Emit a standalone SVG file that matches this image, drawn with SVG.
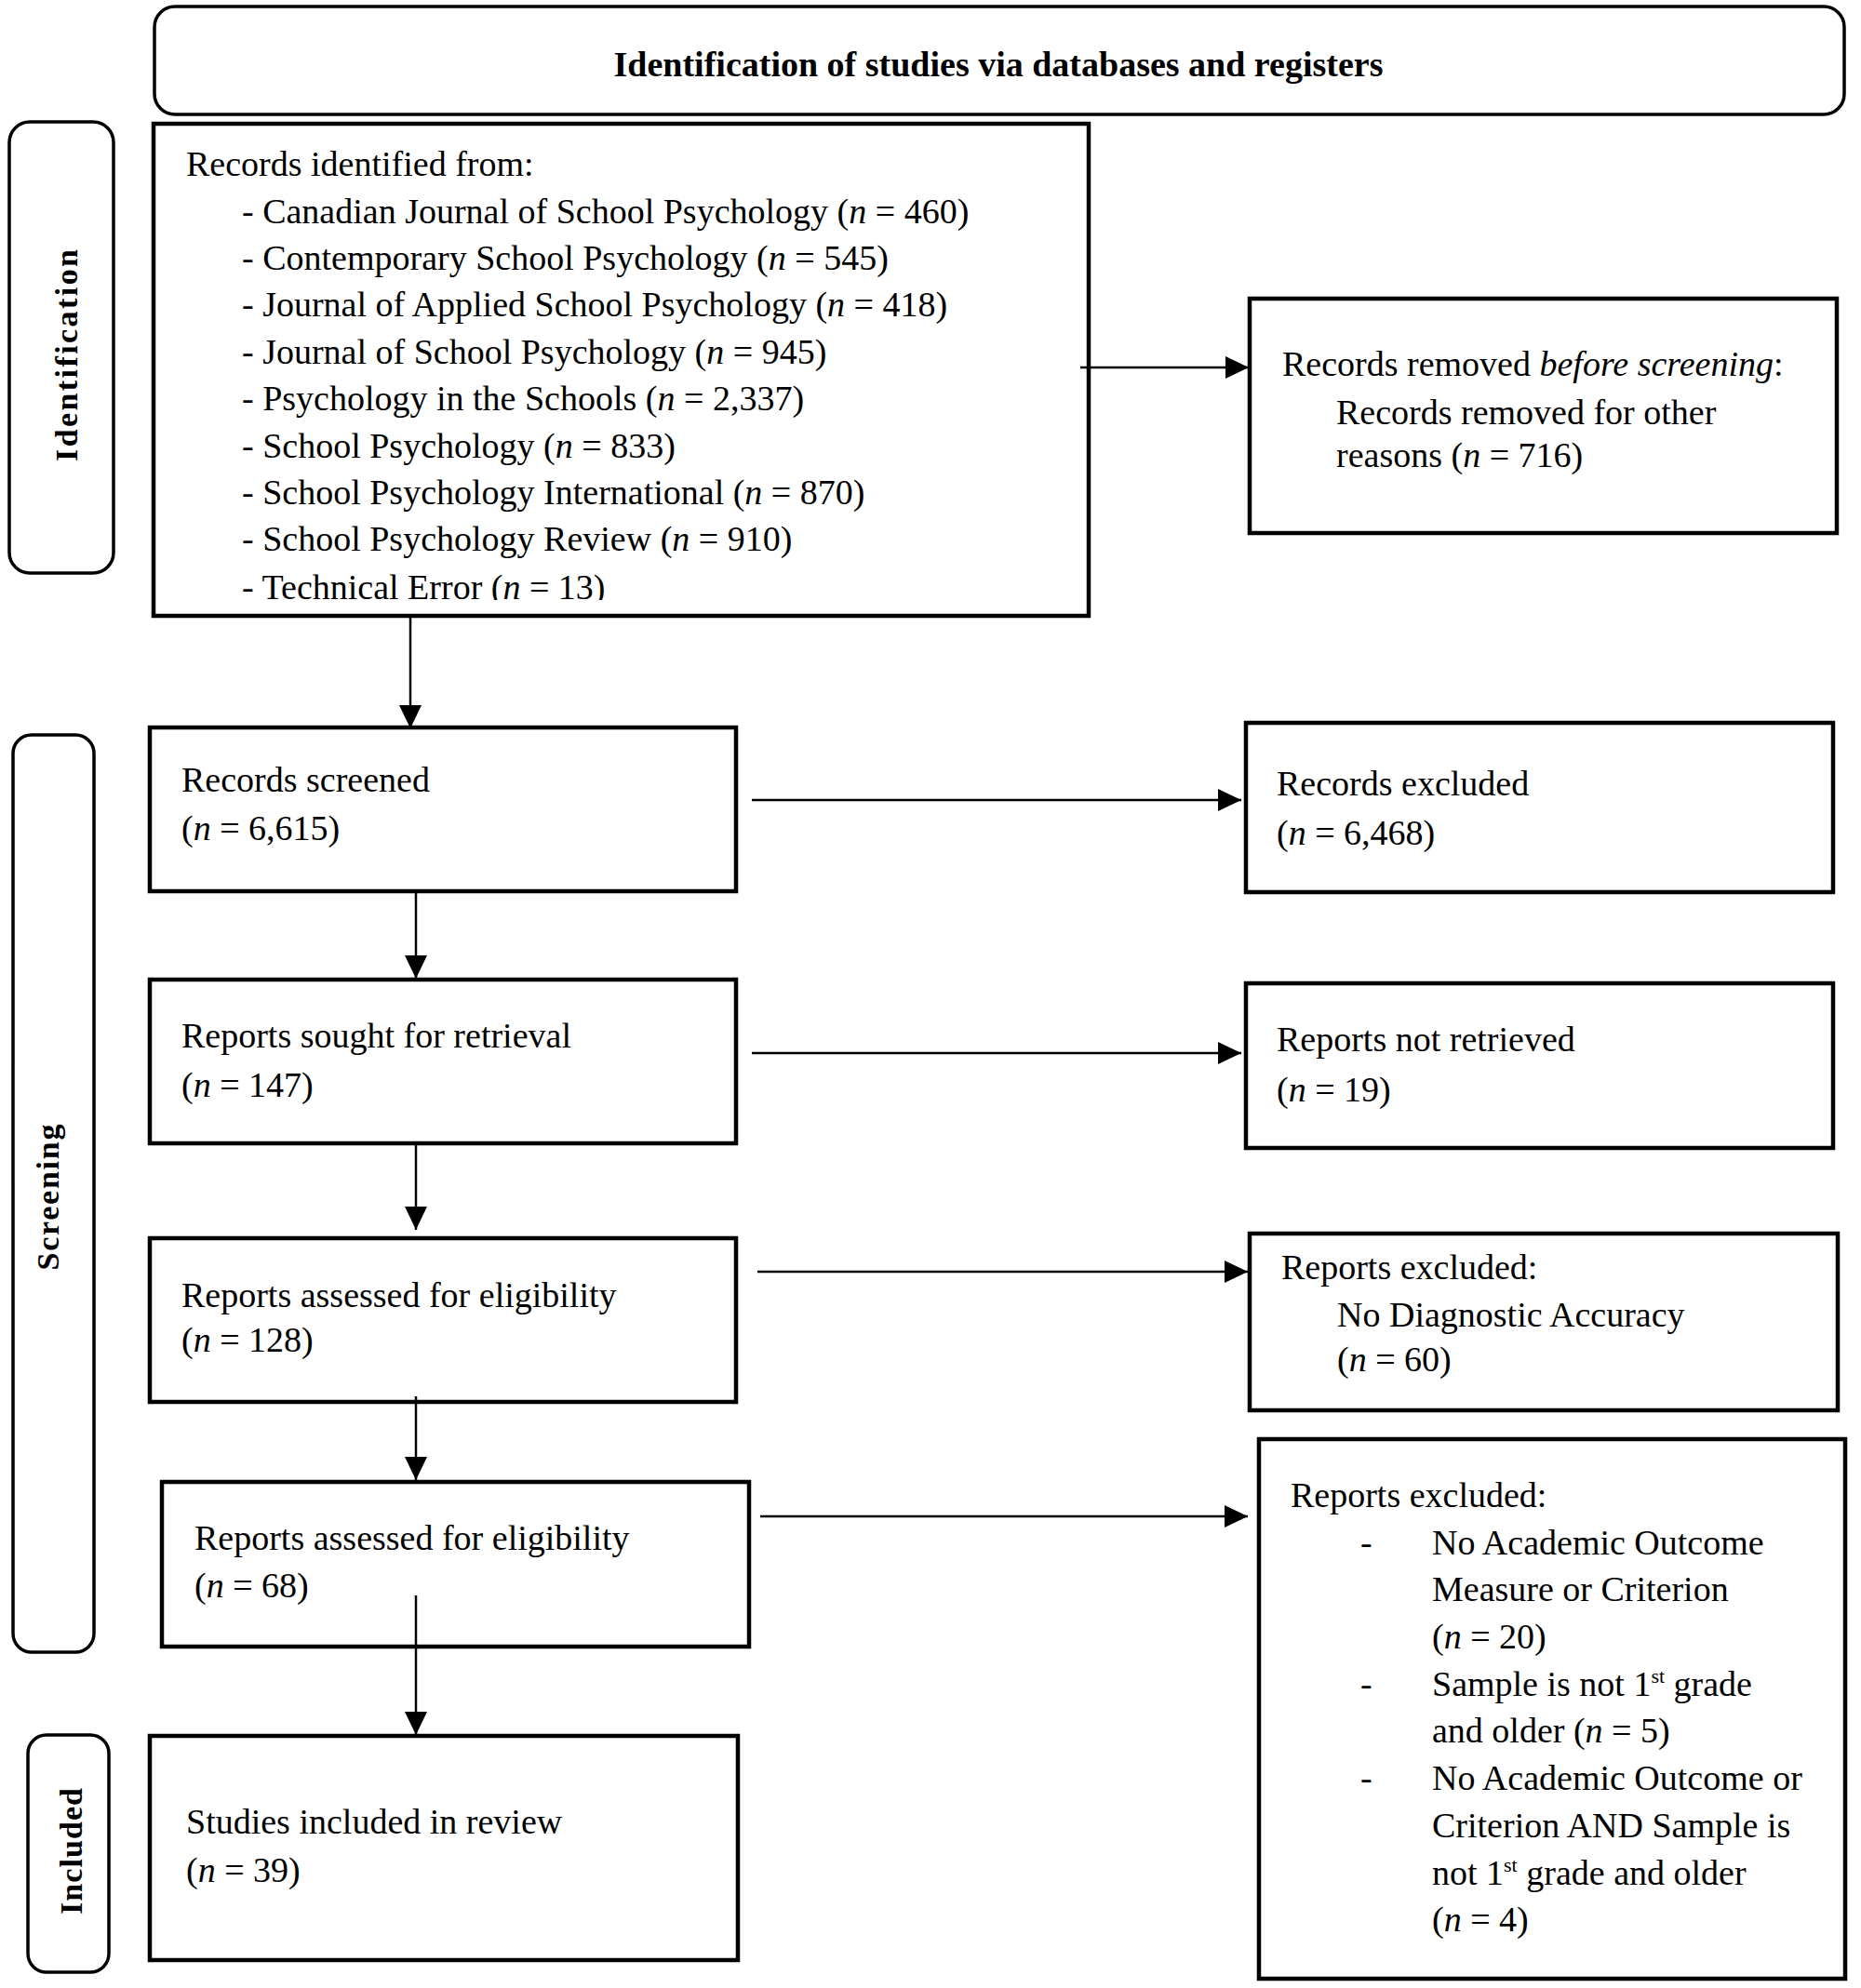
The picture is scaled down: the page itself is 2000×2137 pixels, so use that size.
<svg xmlns="http://www.w3.org/2000/svg" width="2000" height="2137" viewBox="0 0 2000 2137">
<style>
.box{fill:#fff;stroke:#000;stroke-width:4.5}
.side{fill:#fff;stroke:#000;stroke-width:3.5}
.con{fill:none;stroke:#000;stroke-width:2.5}
.t{font-family:"Liberation Serif","Times New Roman",serif;font-size:38px;fill:#000}
.b{font-family:"Liberation Serif","Times New Roman",serif;font-weight:bold;fill:#000}
.i{font-style:italic}
.sup{font-size:22px}
</style>
<defs>
<marker id="ah" markerUnits="userSpaceOnUse" markerWidth="26" markerHeight="26" viewBox="0 0 26 26" refX="25" refY="12" orient="auto">
<path d="M0,0 L25,12 L0,24 Z" fill="#000"/>
</marker>
<clipPath id="clipList"><rect x="165" y="132" width="1005" height="513"/></clipPath>
</defs>
<rect width="2000" height="2137" fill="#fff"/>

<g id="header">
<rect class="side" x="166" y="7" width="1816" height="116" rx="22" ry="22"/>
<text class="b" x="1073" y="82" font-size="38" text-anchor="middle">Identification of studies via databases and registers</text>
</g>

<g id="label-identification">
<rect class="side" x="10" y="131" width="112" height="485" rx="22" ry="22"/>
<text class="b" font-size="34" text-anchor="middle" textLength="228" lengthAdjust="spacing" transform="translate(83 382) rotate(-90)">Identification</text>
</g>

<g id="label-screening">
<rect class="side" x="14" y="790" width="87" height="986" rx="20" ry="20"/>
<text class="b" font-size="34" text-anchor="middle" textLength="157" lengthAdjust="spacing" transform="translate(63 1287) rotate(-90)">Screening</text>
</g>

<g id="label-included">
<rect class="side" x="30" y="1865" width="87" height="255" rx="20" ry="20"/>
<text class="b" font-size="34" text-anchor="middle" textLength="136" lengthAdjust="spacing" transform="translate(88 1990) rotate(-90)">Included</text>
</g>

<g id="records-identified">
<rect class="box" x="165" y="133" width="1005" height="529"/>
<g clip-path="url(#clipList)">
<text class="t" x="200" y="189">Records identified from:</text>
<text class="t" x="260" y="240">- Canadian Journal of School Psychology (<tspan class="i">n</tspan> = 460)</text>
<text class="t" x="260" y="290">- Contemporary School Psychology (<tspan class="i">n</tspan> = 545)</text>
<text class="t" x="260" y="340">- Journal of Applied School Psychology (<tspan class="i">n</tspan> = 418)</text>
<text class="t" x="260" y="391">- Journal of School Psychology (<tspan class="i">n</tspan> = 945)</text>
<text class="t" x="260" y="441">- Psychology in the Schools (<tspan class="i">n</tspan> = 2,337)</text>
<text class="t" x="260" y="492">- School Psychology (<tspan class="i">n</tspan> = 833)</text>
<text class="t" x="260" y="542">- School Psychology International (<tspan class="i">n</tspan> = 870)</text>
<text class="t" x="260" y="592">- School Psychology Review (<tspan class="i">n</tspan> = 910)</text>
<text class="t" x="260" y="644">- Technical Error (<tspan class="i">n</tspan> = 13)</text>
</g>
</g>

<g id="records-removed">
<rect class="box" x="1343" y="321" width="631" height="252"/>
<text class="t" x="1378" y="404">Records removed <tspan class="i">before screening</tspan>:</text>
<text class="t" x="1436" y="456">Records removed for other</text>
<text class="t" x="1436" y="502">reasons (<tspan class="i">n</tspan> = 716)</text>
</g>

<g id="records-screened">
<rect class="box" x="161" y="782" width="630" height="176"/>
<text class="t" x="195" y="851">Records screened</text>
<text class="t" x="195" y="903">(<tspan class="i">n</tspan> = 6,615)</text>
</g>

<g id="records-excluded">
<rect class="box" x="1339" y="777" width="631" height="182"/>
<text class="t" x="1372" y="855">Records excluded</text>
<text class="t" x="1372" y="908">(<tspan class="i">n</tspan> = 6,468)</text>
</g>

<g id="reports-sought">
<rect class="box" x="161" y="1053" width="630" height="176"/>
<text class="t" x="195" y="1126">Reports sought for retrieval</text>
<text class="t" x="195" y="1179">(<tspan class="i">n</tspan> = 147)</text>
</g>

<g id="reports-not-retrieved">
<rect class="box" x="1339" y="1057" width="631" height="177"/>
<text class="t" x="1372" y="1130">Reports not retrieved</text>
<text class="t" x="1372" y="1184">(<tspan class="i">n</tspan> = 19)</text>
</g>

<g id="reports-assessed-128">
<rect class="box" x="161" y="1331" width="630" height="176"/>
<text class="t" x="195" y="1405">Reports assessed for eligibility</text>
<text class="t" x="195" y="1453">(<tspan class="i">n</tspan> = 128)</text>
</g>

<g id="reports-excluded-60">
<rect class="box" x="1343" y="1326" width="632" height="190"/>
<text class="t" x="1377" y="1375">Reports excluded:</text>
<text class="t" x="1437" y="1426">No Diagnostic Accuracy</text>
<text class="t" x="1437" y="1474">(<tspan class="i">n</tspan> = 60)</text>
</g>

<g id="reports-assessed-68">
<rect class="box" x="174" y="1593" width="631" height="177"/>
<text class="t" x="209" y="1666">Reports assessed for eligibility</text>
<text class="t" x="209" y="1717">(<tspan class="i">n</tspan> = 68)</text>
</g>

<g id="reports-excluded-multi">
<rect class="box" x="1353" y="1547" width="630" height="580"/>
<text class="t" x="1387" y="1620">Reports excluded:</text>
<text class="t" x="1462" y="1671">-</text>
<text class="t" x="1539" y="1671">No Academic Outcome</text>
<text class="t" x="1539" y="1721">Measure or Criterion</text>
<text class="t" x="1539" y="1772">(<tspan class="i">n</tspan> = 20)</text>
<text class="t" x="1462" y="1823">-</text>
<text class="t" x="1539" y="1823">Sample is not 1<tspan class="sup" dy="-14">st</tspan><tspan dy="14"> grade</tspan></text>
<text class="t" x="1539" y="1873">and older (<tspan class="i">n</tspan> = 5)</text>
<text class="t" x="1462" y="1924">-</text>
<text class="t" x="1539" y="1924">No Academic Outcome or</text>
<text class="t" x="1539" y="1975">Criterion AND Sample is</text>
<text class="t" x="1539" y="2026">not 1<tspan class="sup" dy="-14">st</tspan><tspan dy="14"> grade and older</tspan></text>
<text class="t" x="1539" y="2076">(<tspan class="i">n</tspan> = 4)</text>
</g>

<g id="studies-included">
<rect class="box" x="161" y="1866" width="632" height="241"/>
<text class="t" x="200" y="1971">Studies included in review</text>
<text class="t" x="200" y="2023">(<tspan class="i">n</tspan> = 39)</text>
</g>

<g id="connectors">
<line class="con" x1="1161" y1="395" x2="1342" y2="395" marker-end="url(#ah)"/>
<line class="con" x1="441" y1="662" x2="441" y2="783" marker-end="url(#ah)"/>
<line class="con" x1="808" y1="860" x2="1334" y2="860" marker-end="url(#ah)"/>
<line class="con" x1="447" y1="958" x2="447" y2="1052" marker-end="url(#ah)"/>
<line class="con" x1="808" y1="1132" x2="1334" y2="1132" marker-end="url(#ah)"/>
<line class="con" x1="447" y1="1229" x2="447" y2="1322" marker-end="url(#ah)"/>
<line class="con" x1="814" y1="1367" x2="1341" y2="1367" marker-end="url(#ah)"/>
<line class="con" x1="447" y1="1501" x2="447" y2="1591" marker-end="url(#ah)"/>
<line class="con" x1="817" y1="1630" x2="1341" y2="1630" marker-end="url(#ah)"/>
<line class="con" x1="447" y1="1715" x2="447" y2="1865" marker-end="url(#ah)"/>
</g>
</svg>
